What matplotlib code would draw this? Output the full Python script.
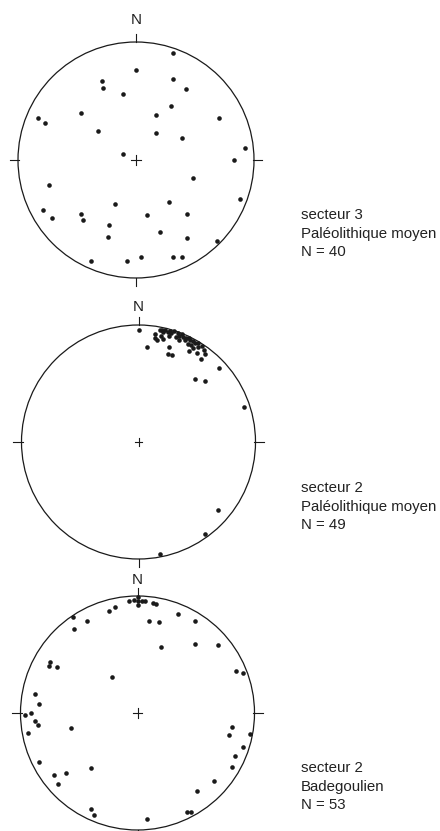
import numpy as np
import matplotlib
matplotlib.use("Agg")
from matplotlib import pyplot as plt
from matplotlib.patches import Circle

plt.rcParams['font.family'] = ['Liberation Sans', 'DejaVu Sans']

# pole positions on each net (east, north), unit circle = primitive
s3_pm_x = [0.31, 0.00, -0.29, -0.28, 0.31, 0.42, -0.11, 0.30, -0.47, -0.83,
           -0.77, 0.17, 0.70, -0.32, 0.17, 0.39, 0.92, -0.11, 0.83, 0.48,
           -0.74, 0.88, -0.18, 0.28, -0.79, -0.71, -0.47, -0.45, 0.09, 0.43,
           -0.23, 0.20, -0.24, 0.43, 0.69, -0.38, -0.08, 0.04, 0.31, 0.39]
s3_pm_y = [0.91, 0.76, 0.67, 0.61, 0.69, 0.60, 0.56, 0.46, 0.40, 0.36,
           0.31, 0.38, 0.36, 0.25, 0.23, 0.19, 0.10, 0.05, 0.00, -0.15,
           -0.21, -0.33, -0.37, -0.36, -0.42, -0.49, -0.46, -0.51, -0.47, -0.46,
           -0.55, -0.61, -0.65, -0.66, -0.69, -0.86, -0.86, -0.82, -0.82, -0.82]

s2_pm_x = [0.00, 0.07, 0.26, 0.25, 0.29, 0.43, 0.50, 0.57, 0.53, 0.69,
           0.48, 0.57, 0.90, 0.68, 0.57, 0.18,
           0.14, 0.14, 0.18, 0.19, 0.20, 0.21, 0.23, 0.25, 0.27, 0.28,
           0.26, 0.34, 0.35, 0.37, 0.38, 0.35, 0.41, 0.43, 0.40, 0.44,
           0.47, 0.45, 0.48, 0.54, 0.51, 0.30, 0.32, 0.21, 0.16, 0.51,
           0.47, 0.42, 0.56]
s2_pm_y = [0.96, 0.81, 0.81, 0.75, 0.74, 0.78, 0.76, 0.75, 0.71, 0.63,
           0.54, 0.52, 0.30, -0.58, -0.79, -0.96,
           0.92, 0.89, 0.96, 0.91, 0.96, 0.94, 0.96, 0.94, 0.95, 0.93,
           0.91, 0.93, 0.91, 0.92, 0.90, 0.87, 0.89, 0.89, 0.87, 0.87,
           0.86, 0.83, 0.85, 0.82, 0.81, 0.95, 0.90, 0.88, 0.87, 0.85,
           0.80, 0.84, 0.79]

s2_bad_x = [0.00, -0.07, 0.00, 0.04, 0.00, 0.13, 0.16, -0.19, -0.24, -0.55,
            -0.43, -0.54, 0.10, 0.18, 0.35, 0.49, 0.49, 0.69, 0.20, -0.75,
            -0.76, -0.69, 0.06, -0.03,
            0.84, 0.90, -0.22, -0.88, -0.84, -0.96, -0.91, -0.88, -0.85, -0.94,
            -0.57, 0.81, 0.78, 0.96, 0.90, 0.83, 0.81, -0.84, -0.40, -0.61,
            -0.71, -0.68, 0.65, 0.51, -0.40, -0.37, 0.42, 0.46, 0.08]
s2_bad_y = [0.99, 0.96, 0.96, 0.96, 0.92, 0.94, 0.93, 0.91, 0.87, 0.82,
            0.79, 0.72, 0.79, 0.78, 0.85, 0.79, 0.59, 0.58, 0.56, 0.44,
            0.40, 0.39, 0.96, 0.97,
            0.36, 0.34, 0.31, 0.16, 0.08, -0.02, 0.00, -0.07, -0.10, -0.17,
            -0.13, -0.12, -0.19, -0.18, -0.29, -0.37, -0.46, -0.42, -0.47, -0.51,
            -0.53, -0.61, -0.58, -0.67, -0.82, -0.87, -0.85, -0.85, -0.91]

labels = [["secteur 3", "Paléolithique moyen", "N = 40"],
          ["secteur 2", "Paléolithique moyen", "N = 49"],
          ["secteur 2", "Badegoulien", "N = 53"]]

nets = [(s3_pm_x, s3_pm_y), (s2_pm_x, s2_pm_y), (s2_bad_x, s2_bad_y)]

# layout in pixels: centre x, centre y, radius, N label offset, first text line y
W, H = 440, 831
layout = [(136, 160, 118, 1.19, 215),
          (138.5, 442, 117, 1.15, 488),
          (137.5, 713, 117, 1.14, 768)]
cross = [0.045, 0.03, 0.04]

fig = plt.figure(figsize=(W / 100, H / 100), dpi=100)
L = 1.3
ink = '#1a1a1a'

for i, (xs, ys) in enumerate(nets):
    cx, cy, r, nr, ty = layout[i]
    half = L * r
    ax = fig.add_axes([(cx - half) / W, (H - cy - half) / H, 2 * half / W, 2 * half / H])
    ax.set_xlim(-L, L)
    ax.set_ylim(-L, L)
    ax.axis('off')

    ax.add_patch(Circle((0, 0), 1, fill=False, lw=0.9, ec=ink))
    # cardinal ticks
    ax.plot([0, 0], [1.0, 1.065], color=ink, lw=0.8)
    ax.plot([0, 0], [-1.0, -1.065], color=ink, lw=0.8)
    ax.plot([-1.07, -0.99], [0, 0], color=ink, lw=0.8)
    ax.plot([0.99, 1.07], [0, 0], color=ink, lw=0.8)
    # centre cross
    c = cross[i]
    ax.plot([-c, c], [0, 0], color=ink, lw=0.8)
    ax.plot([0, 0], [-c, c], color=ink, lw=0.8)
    ax.text(0, nr, "N", ha='center', va='center', fontsize=11, color='#222222')

    ax.plot(xs, ys, 'o', color=ink, markersize=3.3, markeredgewidth=0)

    for j, line in enumerate(labels[i]):
        fig.text(301 / W, 1 - (ty + j * 18.5) / H, line, ha='left', va='center',
                 fontsize=10.8, color='#222222')

plt.savefig("out.png", dpi=100)
plt.close()
